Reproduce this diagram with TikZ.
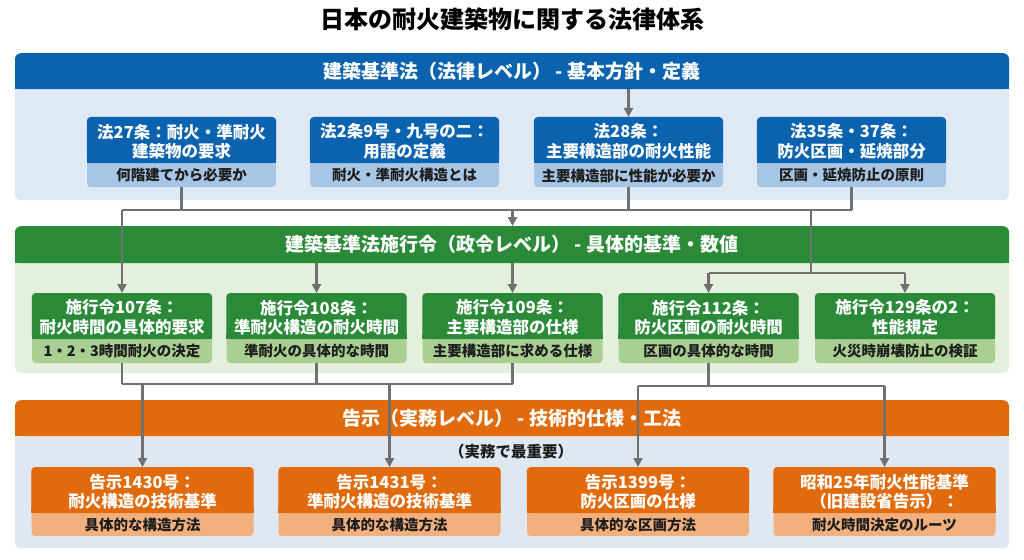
\documentclass[tikz,border=0pt]{standalone}
\usepackage{fontspec}
\setmainfont{Noto Sans CJK JP}
\usetikzlibrary{arrows.meta,calc}
\definecolor{bluehdr}{HTML}{0B63AF}
\definecolor{bluebody}{HTML}{DEE9F4}
\definecolor{bluesub}{HTML}{A7C5E4}
\definecolor{greenhdr}{HTML}{2A8A38}
\definecolor{greenbody}{HTML}{E4EFDC}
\definecolor{greensub}{HTML}{A9CF92}
\definecolor{orahdr}{HTML}{E06A0C}
\definecolor{orabody}{HTML}{DFE8F1}
\definecolor{orasub}{HTML}{F2B07E}
\definecolor{conncol}{HTML}{707070}
\definecolor{subtext}{HTML}{1E1E1E}
\newcommand\ctop{bluehdr}
\newcommand\csub{bluesub}
\newcommand\bw{189}
\newcommand\lbox[7]{%
  \pgfmathsetmacro\bxh{#5-#3}%
  \pgfmathsetmacro\bxt{#4-#3}%
  \node[fill=\csub, rounded corners=4pt, inner sep=0pt, minimum width=\bw pt, minimum height=\bxh pt, anchor=north] (#1) at (#2,#3) {};
  \fill[\ctop, rounded corners=4pt] (#1.north west) rectangle ([yshift=-\bxt pt]#1.north east);
  \fill[\ctop] ([yshift={-\bxt pt+5pt}]#1.north west) rectangle ([yshift=-\bxt pt]#1.north east);
  \node[boxtitle] (#1t) at ([yshift={-\bxt/2 pt-1.5pt}]#1.north) {#6};
  \node[boxsub] (#1s) at ([yshift={(\bxh-\bxt)/2 pt}]#1.south) {#7};
}
\newcommand\panel[7]{% name, top, headerbottom, bottom, hdrcolor, bodycolor, text
  \pgfmathsetmacro\pnh{#4-#2}%
  \pgfmathsetmacro\pnt{#3-#2}%
  \node[fill=#6, rounded corners=6pt, inner sep=0pt, minimum width=994pt, minimum height=\pnh pt, anchor=north] (#1) at (512,#2) {};
  \node[fill=#5, rounded corners=6pt, inner sep=0pt, minimum width=994pt, minimum height=\pnt pt, anchor=north] (#1h) at (512,#2) {};
  \fill[#5] ([yshift=7pt]#1h.south west) rectangle (#1h.south east);
  \node[hdrtext] (#1ht) at (#1h.center) {#7};
}
\tikzset{
  boxtitle/.style={text=white, font=\bfseries\fontsize{16.5}{19.5}\selectfont, align=center, inner sep=0pt},
  boxsub/.style={text=subtext, font=\bfseries\fontsize{14.5}{17}\selectfont, inner sep=0pt},
  hdrtext/.style={text=white, font=\bfseries\fontsize{19}{22}\selectfont, inner sep=0pt},
  conn/.style={draw=conncol, line width=2.3pt},
  arr/.style={draw=conncol, line width=2.3pt, -{Triangle[length=9pt,width=9pt]}},
}
\begin{document}
\begin{tikzpicture}[x=1pt,y=-1pt]
\useasboundingbox[fill=white] (0,0) rectangle (1024,559);
% title
\node[font=\bfseries\fontsize{24}{28}\selectfont, text=black] (title) at (512,19) {日本の耐火建築物に関する法律体系};
% panels
\panel{PL}{53}{89}{200}{bluehdr}{bluebody}{建築基準法（法律レベル） - 基本方針・定義}
\panel{PC}{226}{263}{373}{greenhdr}{greenbody}{建築基準法施行令（政令レベル） - 具体的基準・数値}
\panel{PN}{400}{436}{548}{orahdr}{orabody}{告示（実務レベル） - 技術的仕様・工法}
\node[font=\bfseries\fontsize{15.5}{18}\selectfont, text=subtext] (note) at (511,452) {（実務で最重要）};
% bus coordinates
\coordinate (busA) at (0,210);
\coordinate (busB) at (811,273);
\coordinate (busC) at (0,384);
\coordinate (busD) at (0,386);
% boxes: law
\renewcommand\ctop{bluehdr}\renewcommand\csub{bluesub}\renewcommand\bw{189}
\lbox{L1}{181.5}{117}{163}{187}{法27条：耐火・準耐火\\建築物の要求}{何階建てから必要か}
\lbox{L2}{404.5}{117}{163}{187}{法2条9号・九号の二：\\用語の定義}{耐火・準耐火構造とは}
\lbox{L3}{628.5}{117}{163}{187}{法28条：\\主要構造部の耐火性能}{主要構造部に性能が必要か}
\lbox{L4}{851.5}{117}{163}{187}{法35条・37条：\\防火区画・延焼部分}{区画・延焼防止の原則}
% boxes: cabinet order
\renewcommand\ctop{greenhdr}\renewcommand\csub{greensub}\renewcommand\bw{180}
\lbox{C1}{122}{293}{339}{363}{施行令107条：\\耐火時間の具体的要求}{1・2・3時間耐火の決定}
\lbox{C2}{316.5}{293}{339}{363}{施行令108条：\\準耐火構造の耐火時間}{準耐火の具体的な時間}
\lbox{C3}{512.5}{293}{339}{363}{施行令109条：\\主要構造部の仕様}{主要構造部に求める仕様}
\lbox{C4}{708.5}{293}{339}{363}{施行令112条：\\防火区画の耐火時間}{区画の具体的な時間}
\lbox{C5}{905}{293}{339}{363}{施行令129条の2：\\性能規定}{火災時崩壊防止の検証}
% boxes: notices
\renewcommand\ctop{orahdr}\renewcommand\csub{orasub}\renewcommand\bw{222}
\lbox{N1}{142.5}{467}{513}{536}{告示1430号：\\耐火構造の技術基準}{具体的な構造方法}
\lbox{N2}{389.5}{467}{513}{536}{告示1431号：\\準耐火構造の技術基準}{具体的な構造方法}
\lbox{N3}{638}{467}{513}{536}{告示1399号：\\防火区画の仕様}{具体的な区画方法}
\lbox{N4}{884.5}{467}{513}{536}{昭和25年耐火性能基準\\（旧建設省告示）：}{耐火時間決定のルーツ}
% connectors: law level
\draw[arr] (L3.north |- PLh.south) -- (L3.north);
\draw[conn] (L1.south) -- (L1.south |- busA);
\draw[conn] (L3.south) -- (L3.south |- busA);
\draw[conn] (L4.south) -- (L4.south |- busA);
\draw[conn] (C1.north |- busA) -- (L4.south |- busA);
\draw[arr] (C1.north |- busA) -- (C1.north);
\draw[arr] (C3.north |- busA) -- (C3.north |- PCh.north);
\draw[arr] (C3.north |- PCh.south) -- (C3.north);
\draw[arr] (C2.north |- PCh.south) -- (C2.north);
\draw[conn] (busB |- busA) -- (busB);
\draw[conn] (C4.north |- busB) -- (C5.north |- busB);
\draw[arr] (C4.north |- busB) -- (C4.north);
\draw[arr] (C5.north |- busB) -- (C5.north);
% connectors: cabinet level
\draw[conn] (C1.south) -- (C1.south |- busC);
\draw[conn] (C2.south) -- (C2.south |- busC);
\draw[conn] (C3.south) -- (C3.south |- busC);
\draw[conn] (C1.south |- busC) -- (C3.south |- busC);
\draw[arr] (N1.north |- busC) -- (N1.north);
\draw[arr] (N2.north |- busC) -- (N2.north);
\draw[conn] (C4.south) -- (C4.south |- busD);
\draw[conn] (N3.north |- busD) -- (N4.north |- busD);
\draw[arr] (N3.north |- busD) -- (N3.north);
\draw[arr] (N4.north |- busD) -- (N4.north);
\end{tikzpicture}
\end{document}
